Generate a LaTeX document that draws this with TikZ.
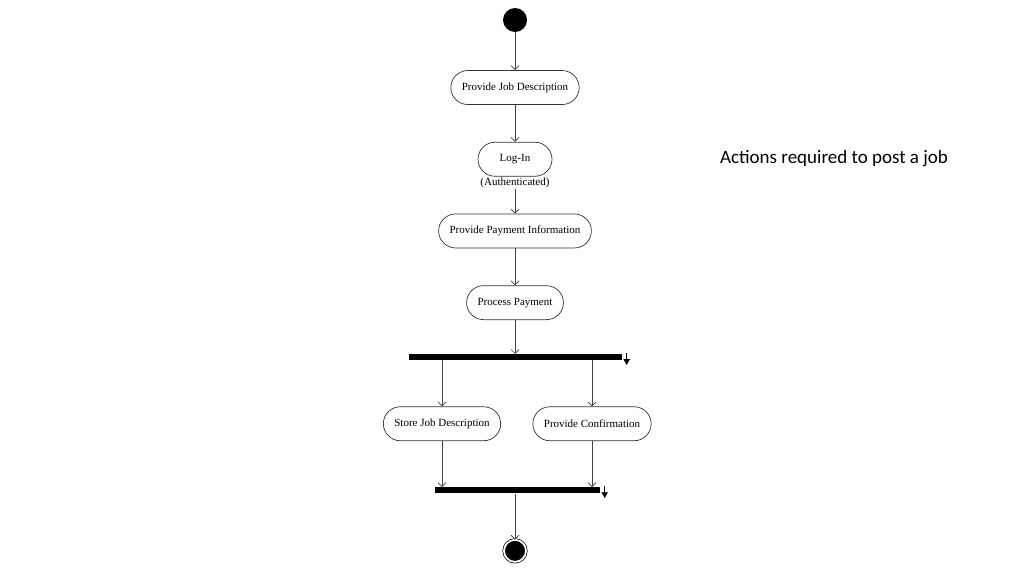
\documentclass[tikz,border=0pt]{standalone}
\usepackage{fontspec}
\setmainfont{Liberation Serif}
\newfontfamily\notefont{Carlito}
\usetikzlibrary{positioning, arrows.meta}
\tikzstyle{act}=[%
      rectangle, draw=black!80, rounded corners=17pt, fill=none, line width=0.7pt,
      minimum height=34pt, minimum width=74pt, inner xsep=11pt, font=\fontsize{11}{13}\selectfont
]
\tikzstyle{bar}=[%
      rectangle, fill=black, draw=none, minimum height=6pt, inner sep=0pt
]
\tikzstyle{flow}=[%
      draw=black!75, line width=0.7pt, -{Straight Barb[length=4pt,width=8pt]}
]
\tikzstyle{barmark}=[%
      draw=black, line width=0.6pt, -{Latex[length=6pt,width=7pt]}
]

\begin{document}
\begin{tikzpicture}
    \useasboundingbox (0,0) rectangle (1024pt,-576pt);

    \node[circle, fill=black, minimum size=24pt, inner sep=0pt] (start) at (515pt,-20pt) {};
    \node[act]  (jobdesc) [below = 38pt of start]        {Provide Job Description};
    \node[act]  (login)   [below = 37pt of jobdesc]      {Log-In};
    \node[font=\fontsize{11}{13}\selectfont, inner sep=1pt] (auth) [below = 0.5pt of login] {(Authenticated)};
    \node[act]  (payinfo) [below = 37pt of login]        {Provide Payment Information};
    \node[act]  (process) [below = 37pt of payinfo]      {Process Payment};
    \node[bar, minimum width=213pt] (fork) [below = 34pt of process] {};
    \node[act]  (store)   [below = 46pt of fork, xshift=-73pt] {Store Job Description};
    \node[act]  (confirm) [below = 46pt of fork, xshift=77pt]  {Provide Confirmation};
    \node[bar, minimum width=165pt] (join) [below = 46pt of store, xshift=75pt] {};
    \node[circle, fill=black, draw=black, line width=0.7pt, double=white, double distance=1.8pt,
          minimum size=22pt, inner sep=0pt] (final) [below = 46pt of join, xshift=-2pt] {};

    \node[font=\notefont\fontsize{19}{22}\selectfont] (note) at (834pt,-159pt) {Actions required to post a job};

    \coordinate (forktop) at ([xshift=5pt, yshift=4pt]fork.east);
    \coordinate (forkend) at ([xshift=5pt, yshift=-8pt]fork.east);
    \coordinate (jointop) at ([xshift=5pt, yshift=4pt]join.east);
    \coordinate (joinend) at ([xshift=5pt, yshift=-8pt]join.east);

    \path[flow] (start) -- (jobdesc);
    \path[flow] (jobdesc) -- (login);
    \path[flow] (auth) -- (payinfo);
    \path[flow] (payinfo) -- (process);
    \path[flow] (process) -- (fork);
    \path[flow] (fork.south -| store) -- (store);
    \path[flow] (fork.south -| confirm) -- (confirm);
    \path[flow] (store) -- (join.north -| store);
    \path[flow] (confirm) -- (join.north -| confirm);
    \path[flow] (join.south -| final) -- (final);

    \draw[barmark] (forktop) -- (forkend);
    \draw[barmark] (jointop) -- (joinend);
\end{tikzpicture}
\end{document}
